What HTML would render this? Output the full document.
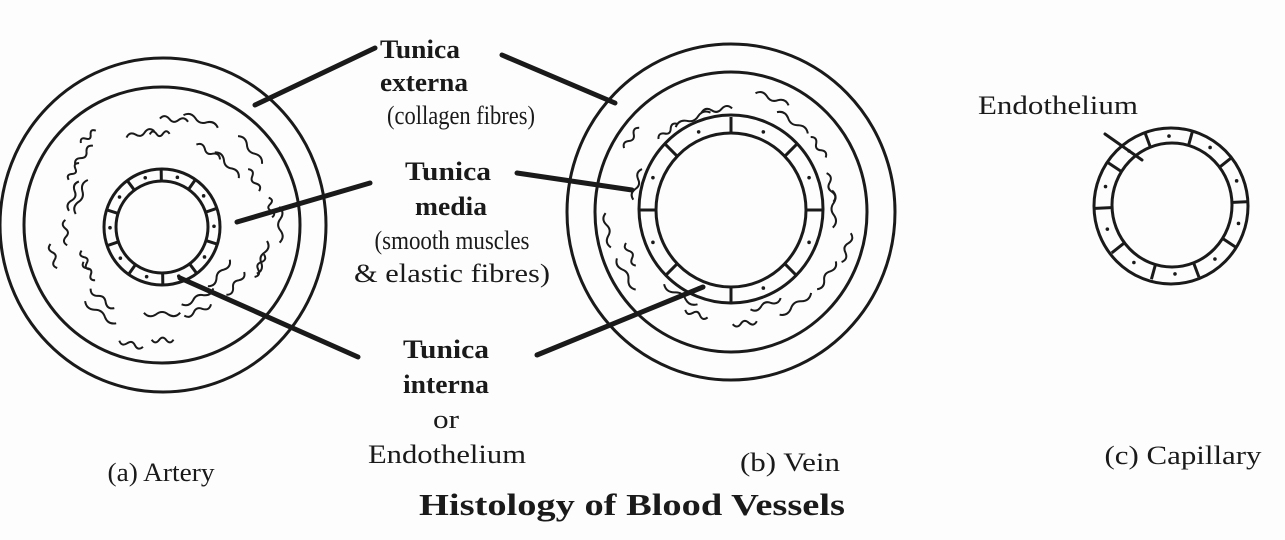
<!DOCTYPE html>
<html><head><meta charset="utf-8"><style>
html,body{margin:0;padding:0;background:#fff;}
svg{display:block}
text{font-family:"Liberation Serif",serif;fill:#1a1a1a}
</style></head><body>
<svg id="s" width="1285" height="540" viewBox="0 0 1285 540" xmlns="http://www.w3.org/2000/svg">
<rect width="1285" height="540" fill="#fdfdfd"/>
<g fill="none" stroke="#1a1a1a" stroke-width="3">
<ellipse cx="163" cy="225" rx="163" ry="167"/>
<ellipse cx="162" cy="225" rx="138" ry="138"/>
<circle cx="162" cy="227" r="58"/>
<circle cx="162" cy="227" r="46"/>
<ellipse cx="731" cy="212" rx="164" ry="168"/>
<ellipse cx="731" cy="212" rx="136" ry="140"/>
<ellipse cx="731" cy="209" rx="92" ry="94"/>
<ellipse cx="731" cy="210" rx="75" ry="77"/>
<ellipse cx="1171" cy="206" rx="77" ry="78"/>
<ellipse cx="1172" cy="205" rx="60" ry="62"/>
</g>
<g id="fib" fill="none" stroke="#1a1a1a" stroke-width="2"></g>
<g id="seg" stroke="#1a1a1a" stroke-width="3" fill="#1a1a1a"></g>
<g stroke="#1a1a1a" stroke-width="5" stroke-linecap="round">
<line x1="255" y1="105" x2="375" y2="48"/>
<line x1="237" y1="222" x2="370" y2="183"/>
<line x1="180" y1="278" x2="358" y2="357"/>
<line x1="502" y1="55" x2="615" y2="103"/>
<line x1="517" y1="173" x2="632" y2="190"/>
<line x1="537" y1="355" x2="703" y2="287"/>
<line x1="1105" y1="134" x2="1142" y2="160" stroke-width="3"/>
</g>
<g font-size="26" text-anchor="middle">
<text x="420" y="58" font-weight="bold" textLength="80" lengthAdjust="spacingAndGlyphs">Tunica</text>
<text x="424" y="91" font-weight="bold" textLength="88" lengthAdjust="spacingAndGlyphs">externa</text>
<text x="461" y="124" textLength="148" lengthAdjust="spacingAndGlyphs">(collagen fibres)</text>
<text x="448" y="180" font-weight="bold" textLength="86" lengthAdjust="spacingAndGlyphs">Tunica</text>
<text x="451" y="215" font-weight="bold" textLength="72" lengthAdjust="spacingAndGlyphs">media</text>
<text x="452" y="249" textLength="155" lengthAdjust="spacingAndGlyphs">(smooth muscles</text>
<text x="452" y="282" textLength="196" lengthAdjust="spacingAndGlyphs">&amp; elastic fibres)</text>
<text x="446" y="358" font-weight="bold" textLength="86" lengthAdjust="spacingAndGlyphs">Tunica</text>
<text x="446" y="393" font-weight="bold" textLength="86" lengthAdjust="spacingAndGlyphs">interna</text>
<text x="446" y="428" textLength="26" lengthAdjust="spacingAndGlyphs">or</text>
<text x="447" y="463" textLength="158" lengthAdjust="spacingAndGlyphs">Endothelium</text>
<text x="161" y="481" textLength="107" lengthAdjust="spacingAndGlyphs">(a) Artery</text>
<text x="790" y="471" textLength="100" lengthAdjust="spacingAndGlyphs">(b) Vein</text>
<text x="1183" y="464" textLength="157" lengthAdjust="spacingAndGlyphs">(c) Capillary</text>
<text x="1058" y="114" textLength="160" lengthAdjust="spacingAndGlyphs">Endothelium</text>
<text x="632" y="515" font-size="31" font-weight="bold" textLength="426" lengthAdjust="spacingAndGlyphs">Histology of Blood Vessels</text>
</g>
</svg>
<script>
(function(){
var NS="http://www.w3.org/2000/svg";
var fib=document.getElementById('fib'),seg=document.getElementById('seg');
function ring(cx,cy,r1,r2,n,off){
 for(var i=0;i<n;i++){var a=(i/n)*2*Math.PI+off;
  var l=document.createElementNS(NS,'line');
  l.setAttribute('x1',cx+r1*Math.cos(a));l.setAttribute('y1',cy+r1*Math.sin(a));
  l.setAttribute('x2',cx+r2*Math.cos(a));l.setAttribute('y2',cy+r2*Math.sin(a));seg.appendChild(l);
  var b=a+Math.PI/n,rm=(r1+r2)/2;
  var c=document.createElementNS(NS,'circle');c.setAttribute('cx',cx+rm*Math.cos(b));c.setAttribute('cy',cy+rm*Math.sin(b));c.setAttribute('r',1.8);c.setAttribute('stroke','none');seg.appendChild(c);}
}
ring(162,227,46,58,10,0.3);
ring(731,210,76,93,8,-Math.PI/2);
ring(1172,205,61,77,10,-1.3);
var seed=11;function rnd(){seed=(seed*9301+49297)%233280;return seed/233280;}
function P(cx,cy,r,a){return (cx+r*Math.cos(a)).toFixed(1)+" "+(cy+r*Math.sin(a)).toFixed(1);}
function fibres(cx,cy,r1,r2,n){
 for(var k=0;k<n;k++){
  var r=r1+rnd()*(r2-r1),a0=(k/n)*2*Math.PI+rnd()*0.3,len=(18+rnd()*22)/r,steps=3;
  var d="M"+P(cx,cy,r,a0);
  for(var j=1;j<=steps;j++){
   var am=a0+len*(j-0.5)/steps,ae=a0+len*j/steps,amp=(j%2?5:-5);
   d+=" Q"+P(cx,cy,r+amp,am)+" "+P(cx,cy,r,ae);
  }
  var p=document.createElementNS(NS,'path');p.setAttribute('d',d);fib.appendChild(p);}
}
fibres(162,226,70,125,16);
fibres(162,226,85,118,14);
fibres(731,211,98,126,20);
})();
</script>
</body></html>
